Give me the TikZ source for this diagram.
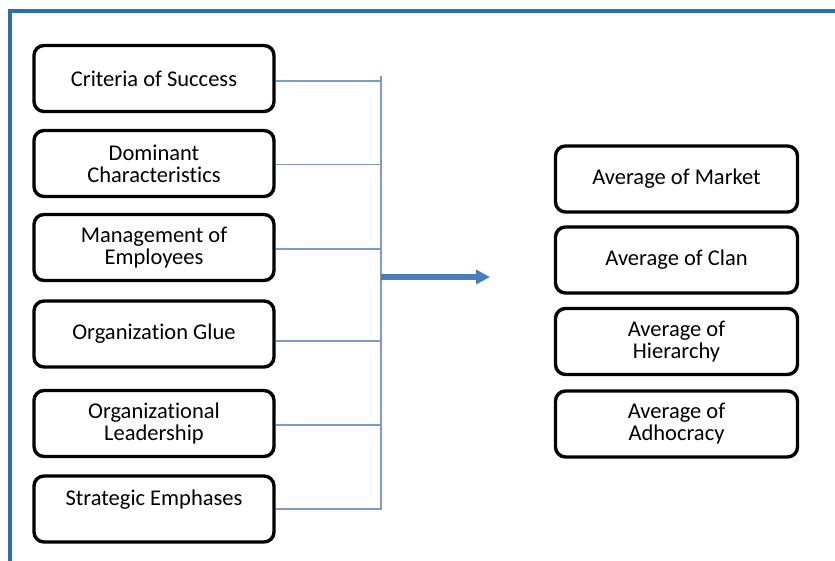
\documentclass[tikz,border=0pt]{standalone}
\usepackage{fontspec}
\setmainfont[Ligatures=NoCommon]{Carlito}
\usetikzlibrary{arrows.meta}
\definecolor{framebl}{HTML}{2E6FA8}
\definecolor{linkbl}{HTML}{7F9CC0}
\definecolor{arrowbl}{HTML}{4A7EBB}
\tikzset{
  card/.style={draw=black, line width=3.4pt, rounded corners=10pt, fill=white,
    minimum width=240pt, minimum height=66pt, align=center,
    font=\fontsize{22.5}{22}\selectfont, inner sep=2pt},
  rcard/.style={card, minimum width=242pt},
  link/.style={draw=linkbl, line width=1.3pt},
  bigarrow/.style={draw=arrowbl, line width=5.2pt,
    -{Triangle[length=14pt,width=14pt]}},
}
\begin{document}
\begin{tikzpicture}[x=1pt,y=-1pt]
\useasboundingbox (0,0) rectangle (835,561);
\fill[white] (0,0) rectangle (835,561);
% outer frame (top and left edges visible)
\draw[framebl, line width=3.5pt] (10,561) -- (10,11) -- (835,11);

% dimensions on the left
\node[card] (crit) at (154,78.5) {Criteria of Success};
\node[card] (domi) at (154,163.5) {Dominant\\Characteristics};
\node[card] (mgmt) at (154,247.5) {Management of\\Employees};
\node[card] (glue) at (154,334) {Organization Glue};
\node[card] (lead) at (154,423.5) {Organizational\\Leadership};
\node[card] (strat) at (154,509) {Strategic Emphases\\~};

% culture averages on the right
\node[rcard] (market) at (676.5,179) {Average of Market};
\node[rcard] (clan) at (676.5,260) {Average of Clan};
\node[rcard] (hier) at (676.5,341.5) {Average of\\Hierarchy};
\node[rcard] (adho) at (676.5,424) {Average of\\Adhocracy};

% collecting bus
\coordinate (bustop) at (381,76);
\coordinate (busbot) at (381,510);
\coordinate (busmid) at (381,277);
\coordinate (tip) at (490,277);
\draw[link] (bustop) -- (busbot);
\draw[link] ([yshift=-2.5pt]crit.east) -- ([yshift=-2.5pt]crit.east -| bustop);
\draw[link] ([yshift=-1pt]domi.east) -- ([yshift=-1pt]domi.east -| bustop);
\draw[link] ([yshift=-1.5pt]mgmt.east) -- ([yshift=-1.5pt]mgmt.east -| bustop);
\draw[link] ([yshift=-7pt]glue.east) -- ([yshift=-7pt]glue.east -| bustop);
\draw[link] ([yshift=-1.5pt]lead.east) -- ([yshift=-1.5pt]lead.east -| bustop);
\draw[link] (strat.east) -- (strat.east -| bustop);
\draw[bigarrow] (busmid) -- (tip);
\end{tikzpicture}
\end{document}
